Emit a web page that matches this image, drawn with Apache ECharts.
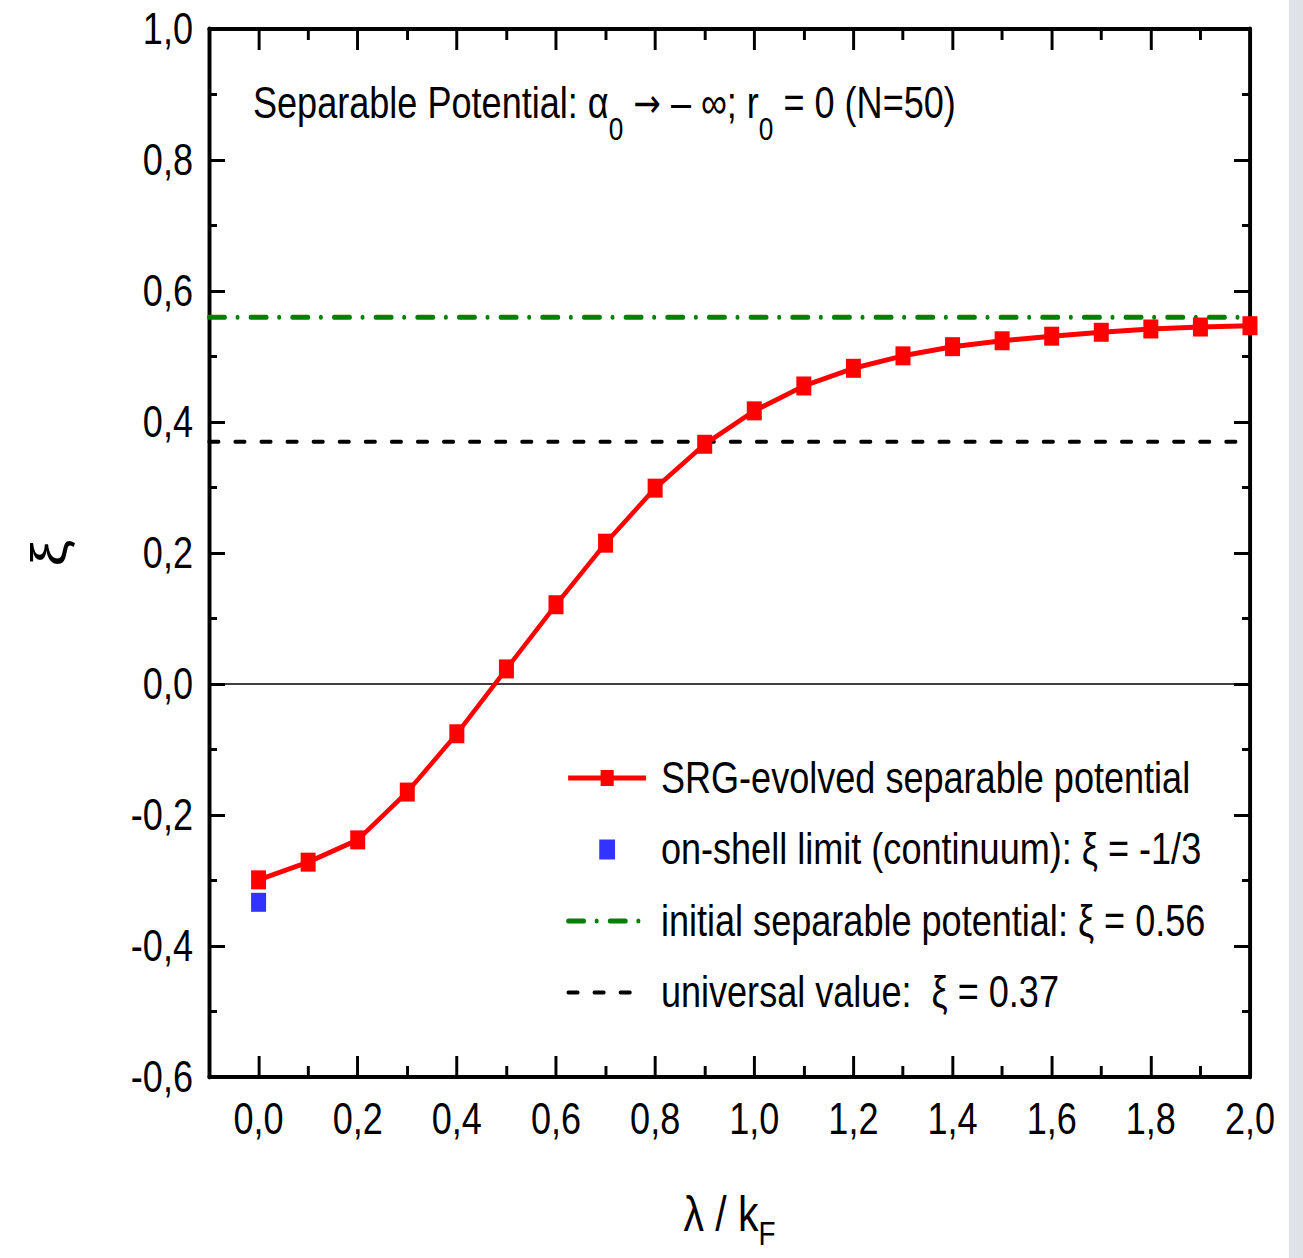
<!DOCTYPE html>
<html>
<head>
<meta charset="utf-8">
<script src="https://cdn.jsdelivr.net/npm/echarts@6/dist/echarts.min.js"></script>
<style>
html,body{margin:0;padding:0;background:#ffffff;overflow:hidden;}
#wrap{width:1303px;height:1258px;overflow:hidden;position:relative;}
#c{width:1589px;height:1258px;transform:scaleX(0.82);transform-origin:0 0;}
</style>
</head>
<body>
<div id="wrap"><div id="c"></div></div>
<script>
// ---- data ----
const lambdaValues = [0.0,0.1,0.2,0.3,0.4,0.5,0.6,0.7,0.8,0.9,1.0,1.1,1.2,1.3,1.4,1.5,1.6,1.7,1.8,1.9,2.0];
const srgXi = [-0.299,-0.272,-0.238,-0.165,-0.076,0.023,0.121,0.215,0.299,0.366,0.417,0.455,0.482,0.501,0.515,0.524,0.531,0.537,0.542,0.545,0.547];
const onShellX = [0.0];
const onShellXi = [-0.3333];
const lineSpanX = [-0.1, 2.0];
const initialXi = [0.56, 0.56];
const universalXi = [0.37, 0.37];
const zeroXi = [0, 0];
const xMajorTicks = [0.0,0.2,0.4,0.6,0.8,1.0,1.2,1.4,1.6,1.8,2.0];
const xMinorTicks = [0.1,0.3,0.5,0.7,0.9,1.1,1.3,1.5,1.7,1.9];
const yMin = -0.6, yMax = 1.0, yStep = 0.2;
const xMin = -0.1, xMax = 2.0;
const seriesNames = ['SRG-evolved separable potential','on-shell limit (continuum): ξ = -1/3','initial separable potential: ξ = 0.56','universal value:  ξ = 0.37'];

// The page is drawn wide and squeezed horizontally (narrow-font look).
const SX = 0.82;
const px = v => v / SX;

const FONT = "'Liberation Sans',Arial,sans-serif";
const pair = (xs, ys) => xs.map((x, i) => [x, ys[i]]);
const fmt = v => { const r = Math.round(v * 10) / 10; return r.toFixed(1).replace('.', ','); };

const chart = echarts.init(document.getElementById('c'), null, {renderer: 'svg'});

const xBase = {type: 'value', min: xMin, max: xMax, gridIndex: 0, splitLine: {show: false}};
const vTick = {color: '#000', width: 3.6};
const hTick = {color: '#000', width: 3};

const option = {
  animation: false,
  backgroundColor: '#ffffff',
  grid: {left: px(209), right: px(53), top: 29, bottom: 181, containLabel: false, outerBoundsMode: 'none'},
  title: {
    left: px(253), top: 78, padding: 0,
    text: '{a|Separable Potential: α}{s|0}{a| }{r|→}{a| – ∞; r}{s|0}{a| = 0 (N=50)}',
    textStyle: {
      fontWeight: 'normal',
      rich: {
        a: {fontFamily: FONT, fontSize: 44, fontWeight: 'normal', lineHeight: 50, color: '#000'},
        r: {fontFamily: "'DejaVu Sans',sans-serif", fontSize: 40, fontWeight: 'normal', lineHeight: 50, color: '#000'},
        s: {fontFamily: FONT, fontSize: 32, fontWeight: 'normal', lineHeight: 32, padding: [52, 0, 0, 0], color: '#000'}
      }
    }
  },
  legend: {
    orient: 'vertical', left: px(562), top: 748,
    itemWidth: px(78), itemHeight: 20, itemGap: 21.5,
    lineStyle: {width: 'inherit'},
    data: [
      {name: seriesNames[0]},
      {name: seriesNames[1], icon: 'path://M0,0L18.3,0L18.3,19L0,19Z'},
      {name: seriesNames[2], itemStyle: {opacity: 0}},
      {name: seriesNames[3], itemStyle: {opacity: 0}}
    ],
    textStyle: {fontFamily: FONT, fontSize: 44, lineHeight: 50, color: '#000', padding: [0, 0, 0, 13]},
    selectedMode: false
  },
  xAxis: [
    Object.assign({}, xBase, {
      position: 'bottom',
      axisLine: {show: true, onZero: false, lineStyle: {color: '#000', width: 4}},
      axisTick: {show: true, inside: true, length: 21, lineStyle: vTick, customValues: xMajorTicks},
      axisLabel: {show: true, customValues: xMajorTicks, formatter: fmt, fontFamily: FONT, fontSize: 44, color: '#000', margin: 20},
      name: '{m|λ / k}{s|F}',
      nameLocation: 'middle', nameGap: 112,
      nameTextStyle: {
        rich: {
          m: {fontFamily: FONT, fontSize: 50, lineHeight: 50, color: '#000'},
          s: {fontFamily: FONT, fontSize: 34, lineHeight: 26, padding: [40, 0, 0, 0], color: '#000'}
        }
      }
    }),
    Object.assign({}, xBase, {
      position: 'bottom',
      axisLine: {show: false, onZero: false},
      axisTick: {show: true, inside: true, length: 11, lineStyle: vTick, customValues: xMinorTicks},
      axisLabel: {show: false}
    }),
    Object.assign({}, xBase, {
      position: 'top',
      axisLine: {show: true, onZero: false, lineStyle: {color: '#000', width: 4}},
      axisTick: {show: true, inside: true, length: 21, lineStyle: vTick, customValues: xMajorTicks},
      axisLabel: {show: false}
    }),
    Object.assign({}, xBase, {
      position: 'top',
      axisLine: {show: false, onZero: false},
      axisTick: {show: true, inside: true, length: 11, lineStyle: vTick, customValues: xMinorTicks},
      axisLabel: {show: false}
    })
  ],
  yAxis: [
    {
      type: 'value', min: yMin, max: yMax, interval: yStep, position: 'left',
      splitLine: {show: false},
      axisLine: {show: true, onZero: false, lineStyle: {color: '#000', width: 4.8}},
      axisTick: {show: true, inside: true, length: px(16), lineStyle: hTick},
      minorTick: {show: true, splitNumber: 2, length: px(8), lineStyle: hTick},
      axisLabel: {show: true, formatter: fmt, fontFamily: FONT, fontSize: 44, color: '#000', margin: px(16)},
      name: 'ξ', nameLocation: 'middle', nameRotate: 90, nameGap: 165,
      nameTextStyle: {fontFamily: FONT, fontSize: 60, color: '#000'}
    },
    {
      type: 'value', min: yMin, max: yMax, interval: yStep, position: 'right',
      splitLine: {show: false},
      axisLine: {show: true, onZero: false, lineStyle: {color: '#000', width: 4.8}},
      axisTick: {show: true, inside: true, length: px(16), lineStyle: hTick},
      minorTick: {show: true, splitNumber: 2, length: px(8), lineStyle: hTick},
      axisLabel: {show: false}
    }
  ],
  series: [
    {
      name: 'zero', type: 'line', data: pair(lineSpanX, zeroXi), symbol: 'none', silent: true,
      lineStyle: {color: '#000', width: 1.6}, z: 1
    },
    {
      name: seriesNames[2], type: 'line', data: pair(lineSpanX, initialXi), symbol: 'none', silent: true,
      lineStyle: {color: '#008000', width: 5, type: [19.4, 15.4, 0.01, 16], cap: 'round'}, itemStyle: {color: '#008000'}, z: 2
    },
    {
      name: seriesNames[3], type: 'line', data: pair(lineSpanX, universalXi), symbol: 'none', silent: true,
      lineStyle: {color: '#000', width: 4, type: [11.9, 19.9], cap: 'round'}, itemStyle: {color: '#000'}, z: 2
    },
    {
      name: seriesNames[0], type: 'line', data: pair(lambdaValues, srgXi),
      symbol: 'rect', symbolSize: [px(15), 19], showAllSymbol: true,
      lineStyle: {color: '#ff0000', width: 5}, itemStyle: {color: '#ff0000'}, z: 3
    },
    {
      name: seriesNames[1], type: 'scatter', data: pair(onShellX, onShellXi),
      symbol: 'rect', symbolSize: [px(15), 19],
      itemStyle: {color: '#0000ff'}, z: 3
    }
  ],
  graphic: [
    {type: 'rect', left: px(1289), top: 0, shape: {width: px(20), height: 1258}, style: {fill: '#dfe3e8'}, silent: true}
  ]
};
chart.setOption(option);
</script>
</body>
</html>
